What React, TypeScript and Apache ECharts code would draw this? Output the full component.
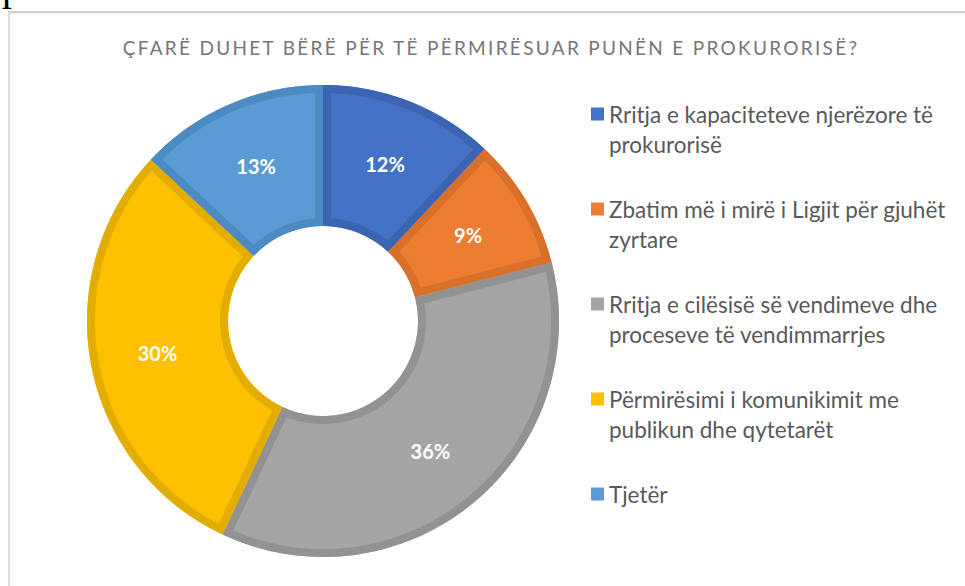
import React, { useEffect, useRef } from "react";
import * as echarts from "echarts";

const title = "ÇFARË DUHET BËRË PËR TË PËRMIRËSUAR PUNËN E PROKURORISË?";
const categories = [
  "Rritja e kapaciteteve njerëzore të prokurorisë",
  "Zbatim më i mirë i Ligjit për gjuhët zyrtare",
  "Rritja e cilësisë së vendimeve dhe proceseve të vendimmarrjes",
  "Përmirësimi i komunikimit me publikun dhe qytetarët",
  "Tjetër",
];
const legendLines = [
  ["Rritja e kapaciteteve njerëzore të", "prokurorisë"],
  ["Zbatim më i mirë i Ligjit për gjuhët", "zyrtare"],
  ["Rritja e cilësisë së vendimeve dhe", "proceseve të vendimmarrjes"],
  ["Përmirësimi i komunikimit me", "publikun dhe qytetarët"],
  ["Tjetër"],
];
const values = [12, 9, 36, 30, 13];

const fillColors = ["#4472C4", "#ED7D31", "#A5A5A5", "#FFC000", "#5B9BD5"];
const edgeColors = ["#3B65B1", "#D8702B", "#929292", "#E3AD00", "#4C8AC2"];

const CX = 323;
const CY = 321;
const R0 = 95;
const R1 = 236;
const BAND = 8;
const START = 90;
const LINE_H = 30;

function bandPoints(i: number): number[][] {
  const total = values.reduce((a, b) => a + b, 0);
  let before = 0;
  for (let k = 0; k < i; k++) before += values[k];
  const a0 = ((START - (before / total) * 360) * Math.PI) / 180;
  const a1 = ((START - ((before + values[i]) / total) * 360) * Math.PI) / 180;
  const d = BAND / 2;
  const ro = R1 - d;
  const ri = R0 + d;
  const dOut = Math.asin(d / ro);
  const dIn = Math.asin(d / ri);
  const pts: number[][] = [];
  const n = 80;
  const oS = a0 - dOut;
  const oE = a1 + dOut;
  for (let k = 0; k <= n; k++) {
    const t = oS + ((oE - oS) * k) / n;
    pts.push([CX + ro * Math.cos(t), CY - ro * Math.sin(t)]);
  }
  const iS = a1 + dIn;
  const iE = a0 - dIn;
  for (let k = 0; k <= n; k++) {
    const t = iS + ((iE - iS) * k) / n;
    pts.push([CX + ri * Math.cos(t), CY - ri * Math.sin(t)]);
  }
  return pts;
}

export default function App() {
  const ref = useRef<HTMLDivElement>(null);
  useEffect(() => {
    if (!ref.current) return;
    const chart = echarts.init(ref.current, undefined, { renderer: "svg" });
    chart.setOption({
      animation: false,
      title: {
        text: title,
        left: 491,
        top: 38,
        textAlign: "center",
        padding: 0,
        textStyle: {
          fontFamily: "Lato",
          fontSize: 19,
          fontWeight: "normal",
          color: "#767676",
        },
      },
      legend: {
        orient: "vertical",
        left: 591,
        top: 69,
        padding: 0,
        itemGap: 5,
        itemWidth: 13,
        itemHeight: 13,
        icon: "rect",
        selectedMode: false,
        data: categories.map((name, i) => ({
          name,
          textStyle: {
            padding:
              legendLines[i].length > 1 ? [0, 0, 0, 0] : [LINE_H, 0, LINE_H, 0],
          },
        })),
        formatter: (name: string) => {
          const lines = legendLines[categories.indexOf(name)];
          return lines.length > 1 ? "\n" + lines.join("\n") : lines[0];
        },
        textStyle: {
          fontFamily: "Lato",
          fontSize: 22.5,
          lineHeight: LINE_H,
          color: "#595959",
        },
      },
      series: [
        {
          type: "pie",
          name: "Përgjigjet",
          radius: [R0, R1],
          center: [CX, CY],
          startAngle: START,
          clockwise: true,
          z: 2,
          silent: true,
          avoidLabelOverlap: false,
          itemStyle: { borderWidth: 0 },
          data: categories.map((name, i) => ({
            name,
            value: values[i],
            itemStyle: { color: fillColors[i] },
          })),
          label: {
            show: true,
            position: "inside",
            formatter: (p: any) => p.value + "%",
            color: "#ffffff",
            fontFamily: "Lato",
            fontWeight: "bold",
            fontSize: 20,
            textBorderWidth: 0,
          },
          labelLine: { show: false },
          emphasis: { disabled: true },
        },
        {
          type: "custom",
          name: "borders",
          coordinateSystem: "none",
          silent: true,
          z: 3,
          data: values.map((v, i) => [i, v]),
          renderItem: (params: any) => {
            const i = params.dataIndex;
            return {
              type: "polygon",
              shape: { points: bandPoints(i) },
              style: {
                fill: "none",
                stroke: edgeColors[i],
                lineWidth: BAND,
                lineJoin: "miter",
                miterLimit: 10,
              },
            };
          },
        },
      ],
    });
    const texts = ref.current.querySelectorAll("text");
    texts.forEach((t) => {
      if (t.textContent === title) {
        t.setAttribute("letter-spacing", "2.3");
      }
    });
    return () => chart.dispose();
  }, []);

  return (
    <>
      <div
        style={{
          position: "absolute",
          left: 0,
          top: 0,
          width: 300,
          height: 11,
          overflow: "hidden",
        }}
      >
        <div
          style={{
            position: "absolute",
            left: 2,
            top: -33,
            fontFamily: "'Liberation Serif', serif",
            fontSize: 40,
            lineHeight: "40px",
            color: "#000",
            whiteSpace: "nowrap",
          }}
        >
          position.
        </div>
      </div>
      <div
        style={{
          position: "absolute",
          left: 8,
          top: 11,
          width: 990,
          height: 620,
          borderTop: "2px solid #cfcfcf",
          borderLeft: "2px solid #dedede",
          boxShadow: "inset 0 2px 2px -1px rgba(0,0,0,0.08)",
          boxSizing: "border-box",
        }}
      />
      <div
        ref={ref}
        style={{ position: "absolute", left: 0, top: 0, width: 965, height: 586 }}
      />
    </>
  );
}
